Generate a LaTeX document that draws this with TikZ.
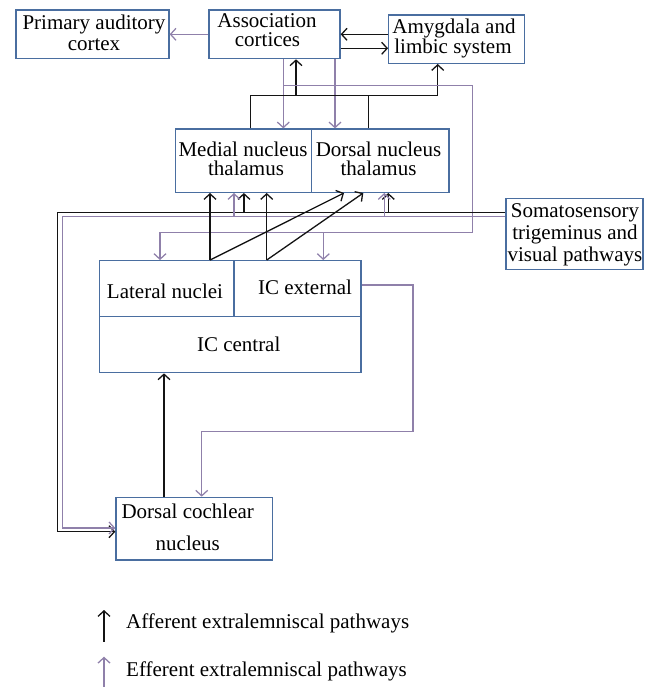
\documentclass[tikz,border=0pt]{standalone}
\usepackage{fontspec}
\setmainfont{Liberation Serif}
\usetikzlibrary{arrows.meta}
\definecolor{boxblue}{RGB}{74,110,160}
\definecolor{effpurple}{RGB}{143,128,170}
\definecolor{affblack}{RGB}{20,20,20}
\begin{document}
\begin{tikzpicture}[x=1pt,y=-1pt,
  box/.style={draw=boxblue, line width=1.3pt, inner sep=0pt, fill=none},
  txt/.style={anchor=base, inner sep=0pt, font=\fontsize{21}{22}\selectfont},
  ltxt/.style={anchor=base west, inner sep=0pt, font=\fontsize{21}{22}\selectfont},
  aff/.style={draw=affblack, line width=1.3pt},
  eff/.style={draw=effpurple, line width=1.25pt},
  arr/.style={-{Straight Barb[length=5.5pt,width=12pt]}}
]
\useasboundingbox (0,0) rectangle (650,687);

% boxes
\node[box, minimum width=153pt, minimum height=48.7pt] (primary) at (92.5,34.3) {};
\node[box, minimum width=131pt, minimum height=48.7pt] (assoc) at (274.5,34.3) {};
\node[box, minimum width=136pt, minimum height=48.3pt] (amyg) at (456.7,39.2) {};
\node[box, minimum width=136.4pt, minimum height=63.3pt] (medial) at (243.5,160.7) {};
\node[box, minimum width=137.3pt, minimum height=63.3pt] (dorsal) at (380.35,160.7) {};
\node[box, minimum width=137pt, minimum height=71pt] (somato) at (574.5,233.8) {};
\node[box, minimum width=134.5pt, minimum height=56pt] (lateral) at (166.75,288.7) {};
\node[box, minimum width=127pt, minimum height=56pt] (icext) at (297.5,288.7) {};
\node[box, minimum width=261.5pt, minimum height=56pt] (iccent) at (230.25,344.7) {};
\node[box, minimum width=156.3pt, minimum height=62.7pt] (dcn) at (194.15,528.65) {};

% texts
\node[txt] (primaryA) at (94,29.3) {Primary auditory};
\node[txt] (primaryB) at (94,50.7) {cortex};
\node[txt] (assocA) at (267,28) {Association};
\node[txt] (assocB) at (267.5,47) {cortices};
\node[txt] (amygA) at (454,33.3) {Amygdala and};
\node[txt] (amygB) at (453,54) {limbic system};
\node[txt] (medialA) at (243,156.7) {Medial nucleus};
\node[txt] (medialB) at (246,175.7) {thalamus};
\node[txt] (dorsalA) at (378.5,156.7) {Dorsal nucleus};
\node[txt] (dorsalB) at (378.5,175.7) {thalamus};
\node[txt] (somatoA) at (575,217.3) {Somatosensory};
\node[txt] (somatoB) at (575,239.5) {trigeminus and};
\node[txt] (somatoC) at (575,261.5) {visual pathways};
\node[txt] (lateralT) at (165,298.3) {Lateral nuclei};
\node[txt] (icextT) at (305,294.3) {IC external};
\node[txt] (iccentT) at (238.7,351.7) {IC central};
\node[txt] (dcnA) at (187.7,518.3) {Dorsal cochlear};
\node[txt] (dcnB) at (187.8,550) {nucleus};
\node[ltxt] (legA) at (126,628.3) {Afferent extralemniscal pathways};
\node[ltxt] (legB) at (126,676.7) {Efferent extralemniscal pathways};

% cortex level
\draw[eff,arr] (assoc.west) -- (primary.east);
\draw[aff,arr] (amyg.west |- 0,34.3) -- (assoc.east |- 0,34.3);
\draw[aff,arr] (assoc.east |- 0,48.3) -- (amyg.west |- 0,48.3);

% cortex -> thalamus (efferent)
\draw[eff,arr] (283.3,0 |- assoc.south) -- (283.3,0 |- medial.north);
\draw[eff,arr] (335,0 |- assoc.south) -- (335,0 |- dorsal.north);

% thalamus -> cortex / amygdala (afferent)
\coordinate (tj) at (296,95.7);
\draw[aff,arr] (250.7,0 |- medial.north) -- (250.7,95.7) -- (437.7,95.7) -- (437.7,0 |- amyg.south);
\draw[aff] (368.7,0 |- dorsal.north) -- (368.7,95.7);
\draw[aff,arr] (tj) -- (296,0 |- assoc.south);

% cortex -> IC (efferent)
\coordinate (ej) at (283.3,85.3);
\coordinate (ek) at (323.3,232.7);
\draw[eff,arr] (ej) -- (472.3,85.3) -- (472.3,232.7) -- (160,232.7) -- (160,0 |- lateral.north);
\draw[eff,arr] (ek) -- (323.3,0 |- icext.north);

% somatosensory pathways (afferent)
\coordinate (sa1) at (243.9,212.3);
\coordinate (sa2) at (388.3,212.3);
\draw[aff,arr] (somato.west |- 0,212.3) -- (57.3,212.3) -- (57.3,531.7) -- (dcn.west |- 0,531.7);
\draw[aff,arr] (sa1) -- (243.9,0 |- medial.south);
\draw[aff,arr] (sa2) -- (388.3,0 |- dorsal.south);

% somatosensory pathways (efferent)
\coordinate (se1) at (234,216.7);
\coordinate (se2) at (384.3,216.7);
\draw[eff,arr] (somato.west |- 0,216.7) -- (62.7,216.7) -- (62.7,528) -- (dcn.west |- 0,528);
\draw[eff,arr] (se1) -- (234,0 |- medial.south);
\draw[eff,arr] (se2) -- (384.3,0 |- dorsal.south);

% IC -> thalamus (afferent)
\draw[aff,arr] (210,0 |- lateral.north) -- (210,0 |- medial.south);
\draw[aff,arr] (210,0 |- lateral.north) -- (344,0 |- dorsal.south);
\draw[aff,arr] (266.7,0 |- icext.north) -- (266.7,0 |- medial.south);
\draw[aff,arr] (266.7,0 |- icext.north) -- (363.3,0 |- dorsal.south);

% IC external -> DCN (efferent)
\draw[eff,arr] (icext.east |- 0,285) -- (413,285) -- (413,431.7) -- (201.7,431.7) -- (201.7,0 |- dcn.north);

% DCN -> IC central (afferent)
\draw[aff,arr] (164,0 |- dcn.north) -- (164,0 |- iccent.south);

% legend
\coordinate (la0) at (104,641.7);
\coordinate (la1) at (104,610);
\coordinate (lb0) at (104,688);
\coordinate (lb1) at (104,656.7);
\draw[aff,arr] (la0) -- (la1);
\draw[eff,arr] (lb0) -- (lb1);
\end{tikzpicture}
\end{document}
